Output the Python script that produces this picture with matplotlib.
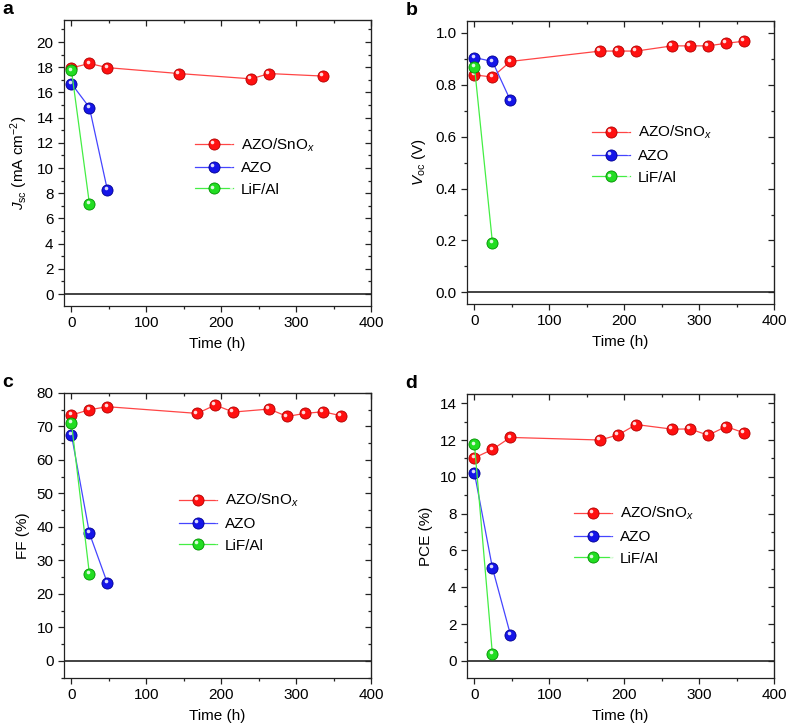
import matplotlib
matplotlib.use("Agg")
import matplotlib.pyplot as plt
from matplotlib.ticker import MultipleLocator, FormatStrFormatter
from matplotlib.legend_handler import HandlerLine2D
from matplotlib.lines import Line2D
import matplotlib.transforms as mtransforms

plt.rcParams['font.family'] = ['Liberation Sans', 'DejaVu Sans']
plt.rcParams['mathtext.fontset'] = 'custom'
plt.rcParams['mathtext.rm'] = 'Liberation Sans'
plt.rcParams['mathtext.it'] = 'Liberation Sans:italic'
plt.rcParams['mathtext.bf'] = 'Liberation Sans:bold'
plt.rcParams['font.size'] = 11

# ---------------- data ----------------
series_names = ['AZO/SnO$_{x}$', 'AZO', 'LiF/Al']

# (a) Jsc
jsc_t_snox = [0, 24, 48, 144, 240, 264, 336]
jsc_snox = [17.95, 18.3, 17.97, 17.5, 17.08, 17.5, 17.3]
jsc_t_azo = [0, 24, 48]
jsc_azo = [16.7, 14.8, 8.25]
jsc_t_lif = [0, 24]
jsc_lif = [17.75, 7.15]

# (b) Voc
voc_t_snox = [0, 24, 48, 168, 192, 216, 264, 288, 312, 336, 360]
voc_snox = [0.838, 0.83, 0.89, 0.93, 0.93, 0.93, 0.95, 0.95, 0.95, 0.96, 0.968]
voc_t_azo = [0, 24, 48]
voc_azo = [0.905, 0.89, 0.74]
voc_t_lif = [0, 24]
voc_lif = [0.87, 0.192]

# (c) FF
ff_t_snox = [0, 24, 48, 168, 192, 216, 264, 288, 312, 336, 360]
ff_snox = [73.4, 75.0, 75.9, 73.9, 76.4, 74.3, 75.2, 73.0, 73.9, 74.4, 73.2]
ff_t_azo = [0, 24, 48]
ff_azo = [67.5, 38.1, 23.2]
ff_t_lif = [0, 24]
ff_lif = [71.0, 25.9]

# (d) PCE
pce_t_snox = [0, 24, 48, 168, 192, 216, 264, 288, 312, 336, 360]
pce_snox = [11.03, 11.49, 12.14, 12.0, 12.28, 12.84, 12.59, 12.6, 12.26, 12.73, 12.39]
pce_t_azo = [0, 24, 48]
pce_azo = [10.2, 5.05, 1.43]
pce_t_lif = [0, 24]
pce_lif = [11.76, 0.36]

line_colors = ['#ff4545', '#4545ff', '#44ee44']
face_colors = ['#ff1010', '#1515e8', '#22dd22']
edge_colors = ['#b00000', '#000090', '#009000']

fig = plt.figure(figsize=(7.88, 7.28), dpi=100)

HL_DX, HL_DY = -1.3 / 72, 1.3 / 72


class SphereHandler(HandlerLine2D):
    def create_artists(self, legend, orig_handle, xdescent, ydescent, width,
                       height, fontsize, trans):
        arts = super().create_artists(legend, orig_handle, xdescent, ydescent,
                                      width, height, fontsize, trans)
        mk = arts[-1]
        hl = Line2D(mk.get_xdata(), mk.get_ydata(), marker='o', ms=2.6,
                    color='white', alpha=0.85, ls='none', mew=0)
        hl.set_transform(trans + mtransforms.ScaledTranslation(HL_DX, HL_DY, fig.dpi_scale_trans))
        return list(arts) + [hl]


panels = [
    dict(pos=[0.0812, 0.5797, 0.3896, 0.3928], letter='a',
         data=[(jsc_t_snox, jsc_snox), (jsc_t_azo, jsc_azo), (jsc_t_lif, jsc_lif)],
         ylim=(-0.95, 21.75), major=2, minor=1,
         ylabel=r'$J_{\rm sc}$ (mA cm$^{-2}$)', leg=(0.427, 0.594), fmt=None),
    dict(pos=[0.5926, 0.5824, 0.3896, 0.3888], letter='b',
         data=[(voc_t_snox, voc_snox), (voc_t_azo, voc_azo), (voc_t_lif, voc_lif)],
         ylim=(-0.045, 1.046), major=0.2, minor=0.1,
         ylabel=r'$V_{\rm oc}$ (V)', leg=(0.407, 0.636), fmt='%.1f'),
    dict(pos=[0.0812, 0.0687, 0.3896, 0.3915], letter='c',
         data=[(ff_t_snox, ff_snox), (ff_t_azo, ff_azo), (ff_t_lif, ff_lif)],
         ylim=(-5.1, 80.0), major=10, minor=5,
         ylabel='FF (%)', leg=(0.375, 0.653), fmt=None),
    dict(pos=[0.5926, 0.0687, 0.3896, 0.3901], letter='d',
         data=[(pce_t_snox, pce_snox), (pce_t_azo, pce_azo), (pce_t_lif, pce_lif)],
         ylim=(-0.93, 14.5), major=2, minor=1,
         ylabel='PCE (%)', leg=(0.349, 0.609), fmt=None),
]

for p in panels:
    ax = fig.add_axes(p['pos'])
    ax.set_xlim(-10, 400)
    ax.set_ylim(*p['ylim'])
    ax.axhline(0, color='#222222', lw=1.2, zorder=1)
    handles = []
    for i, (t, v) in enumerate(p['data']):
        ln, = ax.plot(t, v, '-', color=line_colors[i], lw=0.9, zorder=2 + i,
                      marker='o', ms=8, mfc=face_colors[i], mec=edge_colors[i], mew=0.6)
        off = mtransforms.offset_copy(ax.transData, fig=fig, x=-1.3, y=1.3, units='points')
        ax.plot(t, v, 'o', ms=2.6, color='white', alpha=0.85, mew=0,
                transform=off, zorder=2 + i)
        handles.append(ln)
    ax.xaxis.set_major_locator(MultipleLocator(100))
    ax.xaxis.set_minor_locator(MultipleLocator(50))
    ax.yaxis.set_major_locator(MultipleLocator(p['major']))
    ax.yaxis.set_minor_locator(MultipleLocator(p['minor']))
    if p['fmt']:
        ax.yaxis.set_major_formatter(FormatStrFormatter(p['fmt']))
    ax.tick_params(which='both', direction='out', top=False, right=False, width=0.9,
                   colors='#222222', labelcolor='black')
    ax.tick_params(which='major', length=4.5, pad=3)
    ax.tick_params(which='minor', length=2.5)
    for s in ax.spines.values():
        s.set_linewidth(0.9)
        s.set_color('#222222')
    # mirrored inward ticks on top/right
    sx = ax.secondary_xaxis('top')
    sx.xaxis.set_major_locator(MultipleLocator(100))
    sx.xaxis.set_minor_locator(MultipleLocator(50))
    sx.tick_params(which='both', direction='in', labeltop=False, width=0.9, colors='#222222')
    sx.tick_params(which='major', length=4.5)
    sx.tick_params(which='minor', length=2.5)
    sy = ax.secondary_yaxis('right')
    sy.yaxis.set_major_locator(MultipleLocator(p['major']))
    sy.yaxis.set_minor_locator(MultipleLocator(p['minor']))
    sy.tick_params(which='both', direction='in', labelright=False, width=0.9, colors='#222222')
    sy.tick_params(which='major', length=4.5)
    sy.tick_params(which='minor', length=2.5)
    ax.set_xlabel('Time (h)', labelpad=5)
    ax.set_ylabel(p['ylabel'], labelpad=5)
    ax.legend(handles, series_names, loc='upper left', bbox_to_anchor=p['leg'],
              frameon=False, borderpad=0, borderaxespad=0, handlelength=2.5,
              handletextpad=0.5, labelspacing=0.5, numpoints=1,
              handler_map={Line2D: SphereHandler()})
    bb = ax.get_position()
    fig.text(bb.x0 - 0.078, bb.y1 + 0.003, p['letter'], fontsize=14, fontweight='bold',
             ha='left', va='bottom')

fig.savefig('out.png', dpi=100)
